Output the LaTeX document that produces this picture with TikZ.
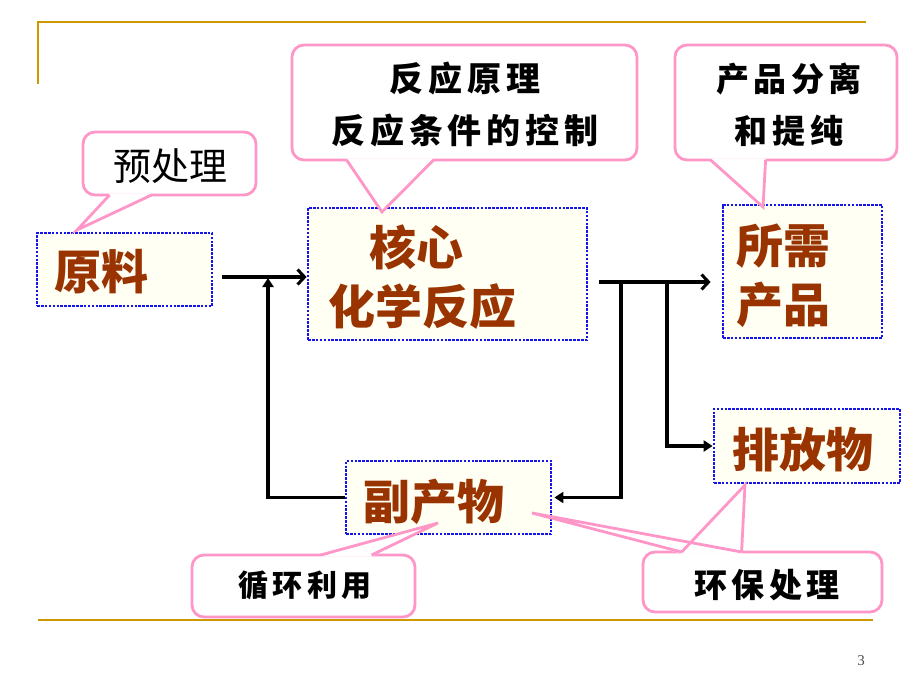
\documentclass[tikz,border=0pt]{standalone}
\usepackage{fontspec}
\usetikzlibrary{arrows.meta,calc}
\setmainfont{Liberation Serif}
\newfontfamily\cjk{Noto Sans CJK SC}
\newfontfamily\cjkls[LetterSpace=14]{Noto Sans CJK SC}
\definecolor{gold}{RGB}{204,153,0}
\definecolor{boxblue}{RGB}{20,20,235}
\definecolor{boxfill}{RGB}{255,255,244}
\definecolor{rust}{RGB}{153,51,0}
\definecolor{pinkline}{RGB}{255,150,200}
\begin{document}
\begin{tikzpicture}[x=1pt,y=-1pt,
  box/.style={draw=boxblue, line width=2.8pt, dash pattern=on 2.6pt off 1.3pt, fill=boxfill, inner sep=0pt},
  big/.style={text=rust, font=\cjk\bfseries\fontsize{47}{50}\selectfont, inner sep=0pt},
  callout/.style={draw=pinkline, line width=2.8pt, fill=white, rounded corners=12pt, inner sep=0pt},
  ctext/.style={font=\cjkls\bfseries\fontsize{#1}{52}\selectfont, align=center, inner sep=0pt},
  tail/.style={draw=pinkline, line width=2.8pt, line join=miter},
  arr/.style={line width=3.4pt, -{Straight Barb[length=7pt,width=15pt,line width=3pt]}},
  arrT/.style={line width=3.4pt, -{Triangle[length=9pt,width=11pt]}},
  rule/.style={draw=gold, line width=2.4pt}]
\useasboundingbox (0,0) rectangle (920,690);

% slide rules
\draw[rule] (38,84) -- (38,22) -- (866,22);
\draw[rule] (38,620) -- (873,620);
\node[font=\fontsize{15}{15}\selectfont, text=black!70, inner sep=0pt] (pg) at (861,661) {3};

% boxes
\node[box, minimum width=175pt, minimum height=73pt] (yuan) at (124.5,269.5) {};
\node[box, minimum width=279pt, minimum height=132pt] (he) at (447.5,274) {};
\node[box, minimum width=159pt, minimum height=133pt] (suo) at (802.5,271.5) {};
\node[box, minimum width=186pt, minimum height=74pt] (pai) at (807,446) {};
\node[box, minimum width=205pt, minimum height=73pt] (fu) at (448.5,497.5) {};

% box texts
\node[big] (tyuan) at (101,272) {原料};
\node[big] (the1) at (416,247) {核心};
\node[big] (the2) at (422,307) {化学反应};
\node[big] (tsuo1) at (783,246) {所需};
\node[big] (tsuo2) at (783,305) {产品};
\node[big] (tpai) at (803,450) {排放物};
\node[big] (tfu) at (434,502) {副产物};

% connectors
\coordinate (j0) at (268,277);
\coordinate (j1) at (621,282);
\coordinate (j2) at (667,282);
\draw[arr] ($(yuan.east)+(9,7.5)$) -- ($(he.west)+(0,3)$);
\draw[arrT] (fu.west) -| ($(j0)+(0,1)$);
\draw[line width=3.4pt] ($(he.east)+(11,8)$) -- (j1);
\draw[arr] (j1) -- ($(suo.west)+(-11,10.5)$);
\draw[arrT] (j1) |- ($(fu.east)+(2,0)$);
\draw[arrT] (j2) |- (pai.west);

% callouts
\node[callout, minimum width=173pt, minimum height=63pt] (c1) at (169.5,163.5) {};
\node[font=\cjk\fontsize{38}{40}\selectfont, inner sep=0pt] (tc1) at (170,166) {预处理};
\coordinate (p1) at (77,230);
\fill[white] ($(c1.south west)+(28,-3)$) -- (p1) -- ($(c1.south west)+(70,-3)$) -- cycle;
\draw[tail] ($(c1.south west)+(28,-1.4)$) -- (p1) -- ($(c1.south west)+(70,-1.4)$);

\node[callout, minimum width=345pt, minimum height=115pt] (c2) at (464.5,102.5) {};
\node[ctext=34] (tc2) at (465,105) {反应原理\\反应条件的控制};
\coordinate (p2) at (382,212);
\fill[white] ($(c2.south west)+(56,-3)$) -- (p2) -- ($(c2.south west)+(143,-3)$) -- cycle;
\draw[tail] ($(c2.south west)+(56,-1.4)$) -- (p2) -- ($(c2.south west)+(143,-1.4)$);

\node[callout, minimum width=222pt, minimum height=115pt] (c3) at (786,102.5) {};
\node[ctext=33] (tc3) at (789,105) {产品分离\\和提纯};
\coordinate (p3) at (763,207);
\fill[white] ($(c3.south west)+(37,-3)$) -- (p3) -- ($(c3.south west)+(92,-3)$) -- cycle;
\draw[tail] ($(c3.south west)+(37,-1.4)$) -- (p3) -- ($(c3.south west)+(92,-1.4)$);

\node[callout, minimum width=223pt, minimum height=62pt] (c4) at (303.5,586) {};
\node[ctext=30] (tc4) at (305,585) {循环利用};
\coordinate (p4) at (438,523);
\fill[white] ($(c4.north west)+(130,3)$) -- (p4) -- ($(c4.north west)+(181,3)$) -- cycle;
\draw[tail] ($(c4.north west)+(130,1.4)$) -- (p4) -- ($(c4.north west)+(181,1.4)$);

\node[callout, minimum width=239pt, minimum height=60pt] (c5) at (762.5,582) {};
\node[ctext=33] (tc5) at (767,585) {环保处理};
\coordinate (p5a) at (532,513);
\coordinate (p5b) at (745,485);
\fill[white] ($(c5.north west)+(40,3)$) -- (p5b) -- ($(c5.north west)+(100,3)$) -- cycle;
\fill[white] ($(c5.north west)+(40,3)$) -- (p5a) -- ($(c5.north west)+(100,3)$) -- cycle;
\draw[tail] ($(c5.north west)+(40,1.4)$) -- (p5b) -- ($(c5.north west)+(100,1.4)$);
\draw[tail] ($(c5.north west)+(40,1.4)$) -- (p5a) -- ($(c5.north west)+(100,1.4)$);
\end{tikzpicture}
\end{document}
